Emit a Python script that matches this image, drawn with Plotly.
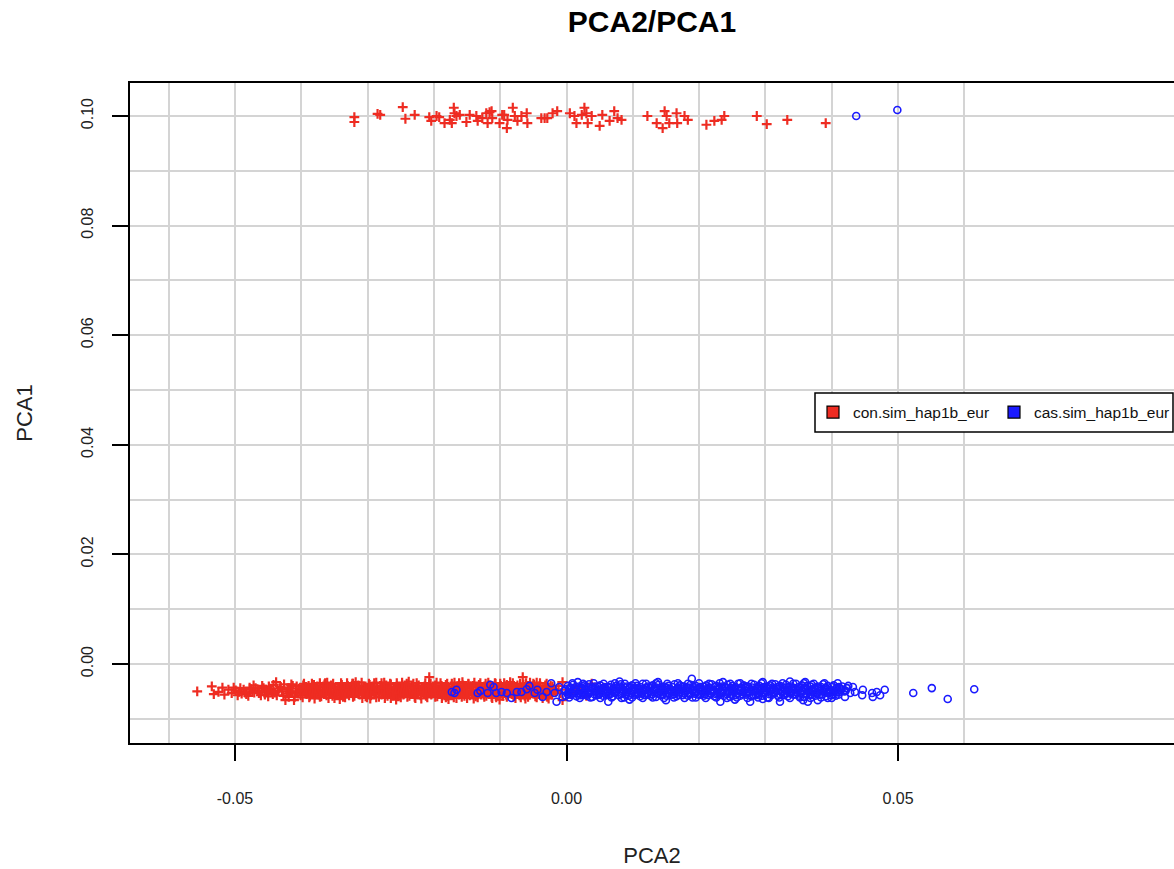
import plotly.graph_objects as go

# ---------------- data (PCA2, PCA1) ----------------
con_top = [
    (-0.0320, 0.0998), (-0.0320, 0.0989), (-0.0285, 0.1004), (-0.0281, 0.1002), (-0.0247, 0.1016),
    (-0.0243, 0.0995), (-0.0229, 0.1002), (-0.0207, 0.0998), (-0.0204, 0.0991), (-0.0196, 0.1000),
    (-0.0192, 0.0998), (-0.0184, 0.0987), (-0.0176, 0.0993), (-0.0173, 0.0987), (-0.0170, 0.1015),
    (-0.0169, 0.1005), (-0.0166, 0.1000), (-0.0161, 0.1002), (-0.0151, 0.0989), (-0.0146, 0.1002),
    (-0.0136, 0.1000), (-0.0134, 0.0991), (-0.0127, 0.0996), (-0.0121, 0.1005), (-0.0119, 0.0987),
    (-0.0116, 0.1007), (-0.0113, 0.1009), (-0.0112, 0.0996), (-0.0101, 0.0987), (-0.0097, 0.1002),
    (-0.0094, 0.1002), (-0.0090, 0.0978), (-0.0089, 0.0993), (-0.0081, 0.1015), (-0.0078, 0.1000),
    (-0.0074, 0.0991), (-0.0068, 0.1000), (-0.0060, 0.1005), (-0.0059, 0.0987), (-0.0038, 0.0996),
    (-0.0033, 0.0996), (-0.0029, 0.0996), (-0.0021, 0.1005), (-0.0014, 0.1009), (0.0005, 0.1005),
    (0.0012, 0.1000), (0.0015, 0.0987), (0.0023, 0.1002), (0.0027, 0.1015), (0.0030, 0.1005),
    (0.0032, 0.0987), (0.0038, 0.1000), (0.0050, 0.0982), (0.0054, 0.1002), (0.0065, 0.0991),
    (0.0072, 0.1009), (0.0077, 0.0996), (0.0083, 0.0993), (0.0122, 0.1000), (0.0136, 0.0987),
    (0.0145, 0.0978), (0.0148, 0.1009), (0.0151, 0.1000), (0.0155, 0.0987), (0.0166, 0.1005),
    (0.0167, 0.0987), (0.0178, 0.1000), (0.0183, 0.0993), (0.0211, 0.0984), (0.0223, 0.0991),
    (0.0234, 0.0993), (0.0238, 0.1000), (0.0287, 0.1000), (0.0302, 0.0985), (0.0333, 0.0993),
    (0.0391, 0.0987),
]

cas_top = [(0.0437, 0.1000), (0.0499, 0.1011)]

con_low_left = [
    (-0.0557, -0.0050), (-0.0535, -0.0041), (-0.0532, -0.0055), (-0.0525, -0.0051), (-0.0519, -0.0043),
    (-0.0516, -0.0056), (-0.0494, -0.0051), (-0.0487, -0.0047), (-0.0483, -0.0055), (-0.0478, -0.0043),
    (-0.0471, -0.0052), (-0.0466, -0.0048), (-0.0461, -0.0057), (-0.0457, -0.0044), (-0.0452, -0.0051),
    (-0.0447, -0.0046), (-0.0443, -0.0055), (-0.0438, -0.0033), (-0.0435, -0.0049), (-0.0431, -0.0042),
    (-0.0427, -0.0058), (-0.0424, -0.0066), (-0.0421, -0.0047), (-0.0417, -0.0053), (-0.0413, -0.0040),
    (-0.0411, -0.0066), (-0.0408, -0.0050), (-0.0404, -0.0045), (-0.0401, -0.0057), (-0.0397, -0.0039),
    (-0.0394, -0.0052), (-0.0499, -0.0048), (-0.0490, -0.0054), (-0.0474, -0.0050), (-0.0469, -0.0044),
    (-0.0455, -0.0056), (-0.0449, -0.0041), (-0.0440, -0.0052), (-0.0433, -0.0045), (-0.0419, -0.0060),
    (-0.0415, -0.0037), (-0.0406, -0.0054), (-0.0399, -0.0046),
    (-0.0510, -0.0047), (-0.0505, -0.0053), (-0.0502, -0.0043), (-0.0496, -0.0057), (-0.0492, -0.0044),
    (-0.0485, -0.0052), (-0.0480, -0.0058), (-0.0476, -0.0046), (-0.0472, -0.0039), (-0.0464, -0.0053),
    (-0.0459, -0.0040), (-0.0454, -0.0047), (-0.0450, -0.0059), (-0.0445, -0.0050), (-0.0442, -0.0038),
    (-0.0437, -0.0057), (-0.0429, -0.0050), (-0.0426, -0.0037), (-0.0422, -0.0054), (-0.0418, -0.0044),
    (-0.0414, -0.0050), (-0.0410, -0.0060), (-0.0407, -0.0041), (-0.0402, -0.0049), (-0.0398, -0.0061),
    (-0.0396, -0.0036),
]

con_low_band = [
    (-0.0389, -0.0040), (-0.0381, -0.0038), (-0.0372, -0.0041), (-0.0365, -0.0037), (-0.0355, -0.0039),
    (-0.0348, -0.0042), (-0.0339, -0.0038), (-0.0330, -0.0040), (-0.0323, -0.0036), (-0.0314, -0.0039),
    (-0.0306, -0.0041), (-0.0297, -0.0038), (-0.0290, -0.0035), (-0.0281, -0.0040), (-0.0272, -0.0039),
    (-0.0265, -0.0037), (-0.0256, -0.0041), (-0.0248, -0.0038), (-0.0240, -0.0040), (-0.0231, -0.0036),
    (-0.0223, -0.0039), (-0.0214, -0.0041), (-0.0207, -0.0037), (-0.0198, -0.0039), (-0.0189, -0.0040),
    (-0.0182, -0.0038), (-0.0173, -0.0036), (-0.0165, -0.0041), (-0.0156, -0.0039), (-0.0148, -0.0037),
    (-0.0141, -0.0040), (-0.0132, -0.0038), (-0.0123, -0.0042), (-0.0116, -0.0039), (-0.0107, -0.0036),
    (-0.0099, -0.0040), (-0.0090, -0.0038), (-0.0082, -0.0041), (-0.0074, -0.0039), (-0.0065, -0.0037),
    (-0.0058, -0.0040), (-0.0049, -0.0038), (-0.0041, -0.0041), (-0.0032, -0.0039), (-0.0024, -0.0040),
    (-0.0393, -0.0042), (-0.0384, -0.0043), (-0.0376, -0.0041), (-0.0367, -0.0043), (-0.0358, -0.0042),
    (-0.0349, -0.0044), (-0.0340, -0.0042), (-0.0331, -0.0041), (-0.0322, -0.0043), (-0.0313, -0.0042),
    (-0.0304, -0.0044), (-0.0295, -0.0042), (-0.0286, -0.0043), (-0.0278, -0.0041), (-0.0269, -0.0042),
    (-0.0259, -0.0043), (-0.0250, -0.0042), (-0.0242, -0.0044), (-0.0233, -0.0042), (-0.0224, -0.0041),
    (-0.0215, -0.0043), (-0.0206, -0.0042), (-0.0197, -0.0043), (-0.0188, -0.0041), (-0.0179, -0.0042),
    (-0.0171, -0.0044), (-0.0162, -0.0042), (-0.0153, -0.0043), (-0.0145, -0.0041), (-0.0137, -0.0042),
    (-0.0127, -0.0043), (-0.0118, -0.0042), (-0.0110, -0.0041), (-0.0101, -0.0043), (-0.0092, -0.0042),
    (-0.0083, -0.0044), (-0.0075, -0.0042), (-0.0066, -0.0043), (-0.0057, -0.0041), (-0.0048, -0.0042),
    (-0.0040, -0.0043), (-0.0031, -0.0042), (-0.0021, -0.0041),
    (-0.0385, -0.0046), (-0.0377, -0.0044), (-0.0368, -0.0047), (-0.0360, -0.0045), (-0.0351, -0.0044),
    (-0.0343, -0.0047), (-0.0335, -0.0045), (-0.0326, -0.0046), (-0.0318, -0.0043), (-0.0310, -0.0047),
    (-0.0301, -0.0045), (-0.0293, -0.0044), (-0.0285, -0.0046), (-0.0277, -0.0048), (-0.0268, -0.0045),
    (-0.0260, -0.0044), (-0.0252, -0.0047), (-0.0244, -0.0045), (-0.0235, -0.0043), (-0.0227, -0.0046),
    (-0.0218, -0.0045), (-0.0210, -0.0047), (-0.0202, -0.0044), (-0.0193, -0.0046), (-0.0186, -0.0045),
    (-0.0177, -0.0047), (-0.0169, -0.0044), (-0.0160, -0.0046), (-0.0152, -0.0045), (-0.0144, -0.0043),
    (-0.0136, -0.0047), (-0.0128, -0.0045), (-0.0119, -0.0046), (-0.0111, -0.0044), (-0.0103, -0.0047),
    (-0.0094, -0.0045), (-0.0086, -0.0046), (-0.0078, -0.0044), (-0.0069, -0.0047), (-0.0061, -0.0045),
    (-0.0053, -0.0046), (-0.0045, -0.0044), (-0.0036, -0.0047), (-0.0028, -0.0045), (-0.0019, -0.0046),
    (-0.0390, -0.0048), (-0.0381, -0.0049), (-0.0373, -0.0047), (-0.0364, -0.0049), (-0.0356, -0.0048),
    (-0.0347, -0.0050), (-0.0338, -0.0048), (-0.0329, -0.0049), (-0.0320, -0.0047), (-0.0311, -0.0049),
    (-0.0302, -0.0048), (-0.0294, -0.0050), (-0.0284, -0.0048), (-0.0276, -0.0049), (-0.0267, -0.0047),
    (-0.0257, -0.0049), (-0.0248, -0.0048), (-0.0239, -0.0050), (-0.0230, -0.0048), (-0.0222, -0.0049),
    (-0.0213, -0.0047), (-0.0204, -0.0049), (-0.0195, -0.0048), (-0.0186, -0.0050), (-0.0177, -0.0048),
    (-0.0168, -0.0049), (-0.0159, -0.0047), (-0.0151, -0.0049), (-0.0142, -0.0048), (-0.0133, -0.0050),
    (-0.0124, -0.0048), (-0.0115, -0.0049), (-0.0106, -0.0047), (-0.0097, -0.0049), (-0.0089, -0.0048),
    (-0.0080, -0.0050), (-0.0071, -0.0048), (-0.0062, -0.0049), (-0.0054, -0.0047), (-0.0046, -0.0049),
    (-0.0037, -0.0048), (-0.0029, -0.0050), (-0.0020, -0.0048),
    (-0.0391, -0.0052), (-0.0383, -0.0050), (-0.0375, -0.0053), (-0.0366, -0.0051), (-0.0358, -0.0049),
    (-0.0350, -0.0052), (-0.0341, -0.0050), (-0.0333, -0.0053), (-0.0324, -0.0051), (-0.0316, -0.0052),
    (-0.0308, -0.0050), (-0.0299, -0.0053), (-0.0291, -0.0051), (-0.0283, -0.0049), (-0.0274, -0.0052),
    (-0.0266, -0.0050), (-0.0258, -0.0053), (-0.0249, -0.0051), (-0.0241, -0.0052), (-0.0233, -0.0050),
    (-0.0225, -0.0054), (-0.0216, -0.0051), (-0.0208, -0.0052), (-0.0200, -0.0050), (-0.0191, -0.0053),
    (-0.0184, -0.0051), (-0.0175, -0.0049), (-0.0167, -0.0052), (-0.0158, -0.0050), (-0.0150, -0.0053),
    (-0.0142, -0.0051), (-0.0134, -0.0052), (-0.0125, -0.0050), (-0.0117, -0.0053), (-0.0109, -0.0051),
    (-0.0100, -0.0052), (-0.0092, -0.0050), (-0.0084, -0.0053), (-0.0076, -0.0051), (-0.0067, -0.0049),
    (-0.0059, -0.0052), (-0.0051, -0.0050), (-0.0043, -0.0053), (-0.0034, -0.0051), (-0.0026, -0.0052),
    (-0.0016, -0.0050),
    (-0.0392, -0.0055), (-0.0383, -0.0054), (-0.0374, -0.0056), (-0.0366, -0.0055), (-0.0357, -0.0054),
    (-0.0348, -0.0055), (-0.0339, -0.0056), (-0.0331, -0.0054), (-0.0322, -0.0055), (-0.0313, -0.0053),
    (-0.0305, -0.0055), (-0.0296, -0.0056), (-0.0288, -0.0054), (-0.0279, -0.0055), (-0.0271, -0.0054),
    (-0.0262, -0.0056), (-0.0253, -0.0055), (-0.0245, -0.0054), (-0.0236, -0.0055), (-0.0228, -0.0053),
    (-0.0219, -0.0055), (-0.0211, -0.0056), (-0.0202, -0.0054), (-0.0193, -0.0055), (-0.0185, -0.0054),
    (-0.0176, -0.0056), (-0.0168, -0.0055), (-0.0159, -0.0054), (-0.0150, -0.0055), (-0.0142, -0.0053),
    (-0.0133, -0.0055), (-0.0125, -0.0056), (-0.0116, -0.0054), (-0.0108, -0.0055), (-0.0099, -0.0054),
    (-0.0091, -0.0056), (-0.0082, -0.0055), (-0.0073, -0.0054), (-0.0065, -0.0055), (-0.0056, -0.0053),
    (-0.0048, -0.0055), (-0.0039, -0.0056), (-0.0031, -0.0054), (-0.0023, -0.0055),
    (-0.0387, -0.0058), (-0.0379, -0.0056), (-0.0370, -0.0059), (-0.0362, -0.0057), (-0.0353, -0.0058),
    (-0.0345, -0.0056), (-0.0337, -0.0060), (-0.0328, -0.0057), (-0.0320, -0.0058), (-0.0312, -0.0056),
    (-0.0303, -0.0059), (-0.0295, -0.0057), (-0.0287, -0.0061), (-0.0279, -0.0056), (-0.0270, -0.0058),
    (-0.0262, -0.0057), (-0.0254, -0.0059), (-0.0246, -0.0056), (-0.0237, -0.0058), (-0.0229, -0.0060),
    (-0.0220, -0.0057), (-0.0212, -0.0058), (-0.0204, -0.0056), (-0.0195, -0.0059), (-0.0187, -0.0057),
    (-0.0179, -0.0058), (-0.0170, -0.0061), (-0.0162, -0.0056), (-0.0154, -0.0058), (-0.0146, -0.0057),
    (-0.0137, -0.0059), (-0.0129, -0.0056), (-0.0121, -0.0058), (-0.0113, -0.0060), (-0.0104, -0.0057),
    (-0.0096, -0.0058), (-0.0088, -0.0056), (-0.0080, -0.0059), (-0.0071, -0.0057), (-0.0063, -0.0058),
    (-0.0055, -0.0056), (-0.0047, -0.0059), (-0.0039, -0.0057), (-0.0030, -0.0058), (-0.0022, -0.0056),
    (-0.0384, -0.0036), (-0.0364, -0.0035), (-0.0352, -0.0036), (-0.0340, -0.0035), (-0.0322, -0.0036),
    (-0.0309, -0.0034), (-0.0298, -0.0036), (-0.0279, -0.0035), (-0.0266, -0.0036), (-0.0256, -0.0035),
    (-0.0241, -0.0036), (-0.0226, -0.0035), (-0.0205, -0.0036), (-0.0190, -0.0035), (-0.0180, -0.0036),
    (-0.0162, -0.0035), (-0.0148, -0.0036), (-0.0139, -0.0034), (-0.0122, -0.0036), (-0.0108, -0.0035),
    (-0.0100, -0.0036), (-0.0081, -0.0035), (-0.0070, -0.0036), (-0.0061, -0.0035), (-0.0050, -0.0036),
    (-0.0040, -0.0035), (-0.0030, -0.0036),
    (-0.0388, -0.0061), (-0.0372, -0.0060), (-0.0359, -0.0062), (-0.0334, -0.0061), (-0.0322, -0.0060),
    (-0.0301, -0.0061), (-0.0283, -0.0060), (-0.0274, -0.0062), (-0.0250, -0.0061), (-0.0240, -0.0060),
    (-0.0210, -0.0061), (-0.0198, -0.0060), (-0.0182, -0.0061), (-0.0166, -0.0062), (-0.0158, -0.0060),
    (-0.0134, -0.0061), (-0.0124, -0.0060), (-0.0106, -0.0061), (-0.0090, -0.0060), (-0.0069, -0.0061),
    (-0.0058, -0.0060), (-0.0045, -0.0061), (-0.0029, -0.0060),
]

con_low_extra = [
    (-0.0380, -0.0063), (-0.0361, -0.0034), (-0.0342, -0.0064), (-0.0318, -0.0033), (-0.0296, -0.0063),
    (-0.0275, -0.0034), (-0.0257, -0.0065), (-0.0238, -0.0032), (-0.0207, -0.0024), (-0.0219, -0.0063),
    (-0.0196, -0.0034), (-0.0178, -0.0064), (-0.0157, -0.0033), (-0.0140, -0.0063), (-0.0118, -0.0034),
    (-0.0101, -0.0065), (-0.0085, -0.0033), (-0.0066, -0.0024), (-0.0062, -0.0063), (-0.0045, -0.0034),
    (-0.0027, -0.0063), (-0.0012, -0.0040), (-0.0006, -0.0033), (-0.0006, -0.0066), (0.0000, -0.0047),
    (0.0006, -0.0055), (0.0013, -0.0043), (0.0021, -0.0051), (0.0030, -0.0058), (0.0038, -0.0036),
    (0.0046, -0.0049), (0.0055, -0.0044), (-0.0009, -0.0053),
    (-0.0372, -0.0035), (-0.0350, -0.0062), (-0.0331, -0.0035), (-0.0308, -0.0062), (-0.0287, -0.0034),
    (-0.0265, -0.0062), (-0.0248, -0.0034), (-0.0228, -0.0062), (-0.0213, -0.0035), (-0.0188, -0.0062),
    (-0.0169, -0.0034), (-0.0150, -0.0062), (-0.0130, -0.0035), (-0.0112, -0.0062), (-0.0094, -0.0035),
    (-0.0077, -0.0062), (-0.0055, -0.0034), (-0.0036, -0.0062),
]

cas_low_overlap = [
    (-0.0173, -0.0051), (-0.0169, -0.0053), (-0.0166, -0.0047), (-0.0134, -0.0053), (-0.0130, -0.0049),
    (-0.0119, -0.0053), (-0.0115, -0.0038), (-0.0110, -0.0042), (-0.0106, -0.0053), (-0.0098, -0.0051),
    (-0.0090, -0.0053), (-0.0083, -0.0062), (-0.0075, -0.0051), (-0.0068, -0.0051), (-0.0060, -0.0046),
    (-0.0056, -0.0040), (-0.0048, -0.0053), (-0.0044, -0.0047), (-0.0036, -0.0060), (-0.0030, -0.0051),
    (-0.0023, -0.0035), (-0.0018, -0.0053), (-0.0015, -0.0069), (-0.0011, -0.0042), (-0.0006, -0.0060),
]

cas_low_band = [
    (0.0002, -0.0040), (0.0010, -0.0038), (0.0019, -0.0041), (0.0027, -0.0039), (0.0034, -0.0037),
    (0.0043, -0.0041), (0.0051, -0.0039), (0.0058, -0.0042), (0.0067, -0.0038), (0.0075, -0.0040),
    (0.0082, -0.0037), (0.0091, -0.0041), (0.0099, -0.0039), (0.0106, -0.0040), (0.0115, -0.0036),
    (0.0123, -0.0041), (0.0130, -0.0039), (0.0139, -0.0038), (0.0147, -0.0041), (0.0154, -0.0040),
    (0.0163, -0.0037), (0.0171, -0.0039), (0.0178, -0.0041), (0.0187, -0.0038), (0.0195, -0.0040),
    (0.0202, -0.0042), (0.0211, -0.0039), (0.0219, -0.0037), (0.0226, -0.0040), (0.0235, -0.0041),
    (0.0243, -0.0038), (0.0250, -0.0040), (0.0259, -0.0036), (0.0267, -0.0039), (0.0274, -0.0041),
    (0.0283, -0.0038), (0.0291, -0.0040), (0.0298, -0.0042), (0.0307, -0.0039), (0.0315, -0.0037),
    (0.0322, -0.0040), (0.0331, -0.0038), (0.0339, -0.0041), (0.0346, -0.0036), (0.0355, -0.0039),
    (0.0363, -0.0040), (0.0370, -0.0038), (0.0379, -0.0041), (0.0387, -0.0037), (0.0394, -0.0040),
    (0.0403, -0.0039), (0.0411, -0.0042),
    (0.0006, -0.0043), (0.0014, -0.0042), (0.0023, -0.0043), (0.0030, -0.0041), (0.0039, -0.0043),
    (0.0048, -0.0042), (0.0055, -0.0044), (0.0064, -0.0042), (0.0071, -0.0043), (0.0080, -0.0041),
    (0.0088, -0.0043), (0.0095, -0.0042), (0.0104, -0.0044), (0.0111, -0.0042), (0.0120, -0.0043),
    (0.0128, -0.0041), (0.0135, -0.0043), (0.0144, -0.0042), (0.0151, -0.0044), (0.0160, -0.0042),
    (0.0168, -0.0043), (0.0175, -0.0041), (0.0184, -0.0043), (0.0191, -0.0042), (0.0200, -0.0044),
    (0.0208, -0.0042), (0.0215, -0.0043), (0.0224, -0.0041), (0.0231, -0.0043), (0.0240, -0.0042),
    (0.0248, -0.0044), (0.0255, -0.0042), (0.0264, -0.0043), (0.0271, -0.0041), (0.0280, -0.0043),
    (0.0288, -0.0042), (0.0295, -0.0044), (0.0304, -0.0042), (0.0311, -0.0043), (0.0320, -0.0041),
    (0.0328, -0.0043), (0.0335, -0.0042), (0.0344, -0.0044), (0.0351, -0.0042), (0.0360, -0.0043),
    (0.0368, -0.0041), (0.0375, -0.0043), (0.0384, -0.0042), (0.0391, -0.0044), (0.0400, -0.0042),
    (0.0408, -0.0043), (0.0416, -0.0041),
    (-0.0002, -0.0046), (0.0006, -0.0044), (0.0014, -0.0047), (0.0023, -0.0045), (0.0030, -0.0046),
    (0.0038, -0.0044), (0.0047, -0.0047), (0.0054, -0.0045), (0.0062, -0.0043), (0.0071, -0.0046),
    (0.0078, -0.0045), (0.0086, -0.0047), (0.0095, -0.0044), (0.0102, -0.0046), (0.0110, -0.0045),
    (0.0119, -0.0047), (0.0126, -0.0044), (0.0134, -0.0046), (0.0143, -0.0045), (0.0150, -0.0043),
    (0.0158, -0.0047), (0.0167, -0.0045), (0.0174, -0.0046), (0.0182, -0.0044), (0.0191, -0.0047),
    (0.0198, -0.0045), (0.0206, -0.0046), (0.0215, -0.0044), (0.0222, -0.0047), (0.0230, -0.0045),
    (0.0239, -0.0043), (0.0246, -0.0046), (0.0254, -0.0045), (0.0263, -0.0047), (0.0270, -0.0044),
    (0.0278, -0.0046), (0.0287, -0.0045), (0.0294, -0.0047), (0.0302, -0.0044), (0.0311, -0.0046),
    (0.0318, -0.0045), (0.0326, -0.0043), (0.0335, -0.0047), (0.0342, -0.0045), (0.0350, -0.0046),
    (0.0359, -0.0044), (0.0366, -0.0047), (0.0374, -0.0045), (0.0383, -0.0046), (0.0390, -0.0044),
    (0.0398, -0.0047), (0.0407, -0.0045), (0.0415, -0.0046), (0.0423, -0.0044),
    (-0.0003, -0.0049), (0.0005, -0.0048), (0.0012, -0.0050), (0.0021, -0.0049), (0.0029, -0.0048),
    (0.0036, -0.0049), (0.0045, -0.0050), (0.0052, -0.0048), (0.0061, -0.0049), (0.0069, -0.0047),
    (0.0076, -0.0049), (0.0085, -0.0050), (0.0092, -0.0048), (0.0101, -0.0049), (0.0109, -0.0048),
    (0.0116, -0.0050), (0.0125, -0.0049), (0.0132, -0.0048), (0.0141, -0.0049), (0.0149, -0.0047),
    (0.0156, -0.0049), (0.0165, -0.0050), (0.0172, -0.0048), (0.0181, -0.0049), (0.0189, -0.0048),
    (0.0196, -0.0050), (0.0205, -0.0049), (0.0212, -0.0048), (0.0221, -0.0049), (0.0229, -0.0047),
    (0.0236, -0.0049), (0.0245, -0.0050), (0.0252, -0.0048), (0.0261, -0.0049), (0.0269, -0.0048),
    (0.0276, -0.0050), (0.0285, -0.0049), (0.0292, -0.0048), (0.0301, -0.0049), (0.0309, -0.0047),
    (0.0316, -0.0049), (0.0325, -0.0050), (0.0332, -0.0048), (0.0341, -0.0049), (0.0349, -0.0048),
    (0.0356, -0.0050), (0.0365, -0.0049), (0.0372, -0.0048), (0.0381, -0.0049), (0.0389, -0.0047),
    (0.0396, -0.0049), (0.0405, -0.0050), (0.0413, -0.0048), (0.0421, -0.0049),
    (0.0003, -0.0052), (0.0011, -0.0050), (0.0018, -0.0053), (0.0026, -0.0051), (0.0035, -0.0052),
    (0.0042, -0.0050), (0.0050, -0.0054), (0.0059, -0.0051), (0.0066, -0.0052), (0.0074, -0.0050),
    (0.0083, -0.0053), (0.0090, -0.0051), (0.0098, -0.0049), (0.0107, -0.0052), (0.0114, -0.0050),
    (0.0122, -0.0053), (0.0131, -0.0051), (0.0138, -0.0052), (0.0146, -0.0050), (0.0155, -0.0054),
    (0.0162, -0.0051), (0.0170, -0.0052), (0.0179, -0.0050), (0.0186, -0.0053), (0.0194, -0.0051),
    (0.0203, -0.0049), (0.0210, -0.0052), (0.0218, -0.0050), (0.0227, -0.0053), (0.0234, -0.0051),
    (0.0242, -0.0052), (0.0251, -0.0050), (0.0258, -0.0054), (0.0266, -0.0051), (0.0275, -0.0052),
    (0.0282, -0.0050), (0.0290, -0.0053), (0.0299, -0.0051), (0.0306, -0.0049), (0.0314, -0.0052),
    (0.0323, -0.0050), (0.0330, -0.0053), (0.0338, -0.0051), (0.0347, -0.0052), (0.0354, -0.0050),
    (0.0362, -0.0054), (0.0371, -0.0051), (0.0378, -0.0052), (0.0386, -0.0050), (0.0395, -0.0053),
    (0.0402, -0.0051), (0.0410, -0.0052), (0.0419, -0.0050),
    (0.0002, -0.0055), (0.0009, -0.0054), (0.0018, -0.0056), (0.0026, -0.0055), (0.0033, -0.0054),
    (0.0042, -0.0055), (0.0049, -0.0056), (0.0058, -0.0054), (0.0066, -0.0055), (0.0073, -0.0053),
    (0.0082, -0.0055), (0.0089, -0.0056), (0.0098, -0.0054), (0.0106, -0.0055), (0.0113, -0.0054),
    (0.0122, -0.0056), (0.0129, -0.0055), (0.0138, -0.0054), (0.0146, -0.0055), (0.0153, -0.0053),
    (0.0162, -0.0055), (0.0169, -0.0056), (0.0178, -0.0054), (0.0186, -0.0055), (0.0193, -0.0054),
    (0.0202, -0.0056), (0.0209, -0.0055), (0.0218, -0.0054), (0.0226, -0.0055), (0.0233, -0.0053),
    (0.0242, -0.0055), (0.0249, -0.0056), (0.0258, -0.0054), (0.0266, -0.0055), (0.0273, -0.0054),
    (0.0282, -0.0056), (0.0289, -0.0055), (0.0298, -0.0054), (0.0306, -0.0055), (0.0313, -0.0053),
    (0.0322, -0.0055), (0.0329, -0.0056), (0.0338, -0.0054), (0.0346, -0.0055), (0.0353, -0.0054),
    (0.0362, -0.0056), (0.0369, -0.0055), (0.0378, -0.0054), (0.0386, -0.0055), (0.0393, -0.0053),
    (0.0402, -0.0055), (0.0410, -0.0056),
    (-0.0001, -0.0058), (0.0007, -0.0056), (0.0015, -0.0059), (0.0022, -0.0057), (0.0031, -0.0058),
    (0.0039, -0.0060), (0.0046, -0.0057), (0.0055, -0.0058), (0.0063, -0.0056), (0.0070, -0.0059),
    (0.0079, -0.0057), (0.0087, -0.0061), (0.0094, -0.0058), (0.0103, -0.0056), (0.0111, -0.0059),
    (0.0118, -0.0057), (0.0127, -0.0058), (0.0135, -0.0060), (0.0142, -0.0057), (0.0151, -0.0058),
    (0.0159, -0.0056), (0.0166, -0.0059), (0.0175, -0.0057), (0.0183, -0.0058), (0.0190, -0.0061),
    (0.0199, -0.0056), (0.0207, -0.0058), (0.0214, -0.0057), (0.0223, -0.0059), (0.0231, -0.0056),
    (0.0238, -0.0058), (0.0247, -0.0060), (0.0255, -0.0057), (0.0262, -0.0058), (0.0271, -0.0056),
    (0.0279, -0.0059), (0.0286, -0.0057), (0.0295, -0.0058), (0.0303, -0.0061), (0.0310, -0.0056),
    (0.0319, -0.0058), (0.0327, -0.0057), (0.0334, -0.0059), (0.0343, -0.0056), (0.0351, -0.0058),
    (0.0358, -0.0060), (0.0367, -0.0057), (0.0375, -0.0058), (0.0382, -0.0056), (0.0391, -0.0059),
    (0.0399, -0.0057), (0.0406, -0.0058),
    (0.0009, -0.0035), (0.0025, -0.0036), (0.0041, -0.0035), (0.0056, -0.0036), (0.0073, -0.0035),
    (0.0088, -0.0036), (0.0104, -0.0035), (0.0120, -0.0036), (0.0135, -0.0035), (0.0152, -0.0036),
    (0.0168, -0.0035), (0.0183, -0.0036), (0.0200, -0.0035), (0.0215, -0.0036), (0.0231, -0.0035),
    (0.0247, -0.0036), (0.0262, -0.0035), (0.0279, -0.0036), (0.0294, -0.0035), (0.0310, -0.0036),
    (0.0326, -0.0035), (0.0342, -0.0036), (0.0358, -0.0035), (0.0373, -0.0036), (0.0389, -0.0035),
    (0.0004, -0.0061), (0.0020, -0.0062), (0.0036, -0.0061), (0.0051, -0.0062), (0.0068, -0.0061),
    (0.0083, -0.0062), (0.0099, -0.0061), (0.0115, -0.0062), (0.0130, -0.0061), (0.0147, -0.0062),
    (0.0162, -0.0061), (0.0178, -0.0062), (0.0195, -0.0061), (0.0210, -0.0062), (0.0226, -0.0061),
    (0.0242, -0.0062), (0.0257, -0.0061), (0.0273, -0.0062), (0.0289, -0.0061), (0.0305, -0.0062),
    (0.0321, -0.0061), (0.0337, -0.0062), (0.0352, -0.0061), (0.0368, -0.0062), (0.0384, -0.0061),
    (0.0400, -0.0062),
]

cas_low_extra = [
    (0.0189, -0.0027), (0.0138, -0.0033), (0.0236, -0.0033), (0.0017, -0.0033), (0.0063, -0.0069),
    (0.0232, -0.0069), (0.0277, -0.0069), (0.0322, -0.0069), (0.0357, -0.0066), (0.0364, -0.0069),
    (0.0379, -0.0066), (0.0296, -0.0064), (0.0296, -0.0033), (0.0337, -0.0032), (0.0095, -0.0065),
    (0.0150, -0.0066), (0.0080, -0.0032), (0.0254, -0.0065), (0.0360, -0.0033), (0.0409, -0.0035),
    (0.0408, -0.0051), (0.0425, -0.0040), (0.0428, -0.0053), (0.0432, -0.0042), (0.0435, -0.0051),
    (0.0446, -0.0057), (0.0447, -0.0047), (0.0461, -0.0053), (0.0462, -0.0060), (0.0468, -0.0051),
    (0.0473, -0.0057), (0.0480, -0.0047), (0.0420, -0.0060), (0.0394, -0.0062), (0.0523, -0.0053),
    (0.0551, -0.0044), (0.0575, -0.0064), (0.0615, -0.0046),
]

series_names = ["con.sim_hap1b_eur", "cas.sim_hap1b_eur"]
x_ticks = [-0.05, 0.0, 0.05]
x_tick_labels = ["-0.05", "0.00", "0.05"]
y_ticks = [0.0, 0.02, 0.04, 0.06, 0.08, 0.10]
y_tick_labels = ["0.00", "0.02", "0.04", "0.06", "0.08", "0.10"]
x_grid = [-0.06, -0.05, -0.04, -0.03, -0.02, -0.01, 0.0, 0.01, 0.02, 0.03, 0.04, 0.05, 0.06]
y_grid = [-0.01, 0.0, 0.01, 0.02, 0.03, 0.04, 0.05, 0.06, 0.07, 0.08, 0.09, 0.10]

# ---------------- styling ----------------
RED = "#ee2c22"
BLUE = "#1a1aff"
GRID = "#d4d4d4"
FONT = "Liberation Sans, Arial, Helvetica, sans-serif"

con_pts = con_low_left + con_low_band + con_low_extra + con_top
cas_pts = cas_low_overlap + cas_low_band + cas_low_extra + cas_top

fig = go.Figure()
fig.add_trace(go.Scatter(
    x=[p[0] for p in con_pts], y=[p[1] for p in con_pts], mode="markers",
    marker=dict(symbol="cross-thin", size=7, line=dict(width=2.2, color=RED)),
    showlegend=False, hoverinfo="skip"))
fig.add_trace(go.Scatter(
    x=[p[0] for p in cas_pts], y=[p[1] for p in cas_pts], mode="markers",
    marker=dict(symbol="circle-open", size=7, color=BLUE, line=dict(width=1.6, color=BLUE)),
    showlegend=False, hoverinfo="skip"))

# legend entries (filled squares with black border, as in the R legend)
for name, col in zip(series_names, [RED, BLUE]):
    fig.add_trace(go.Scatter(
        x=[None], y=[None], mode="markers", name=name,
        marker=dict(symbol="square", size=12, color=col, line=dict(width=1.2, color="black"))))

L, T, B = 130, 83, 126
W, H = 1174, 869
ph = H - T - B
pw = W - L

def px2paper_x(px):
    return (px - L) / pw

def py2paper_y(py):
    return (H - B - py) / ph

fig.update_layout(
    width=W, height=H,
    margin=dict(l=L, r=0, t=T, b=B, autoexpand=False),
    paper_bgcolor="white", plot_bgcolor="white",
    font=dict(family=FONT, color="#111"),
    title=dict(text="<b>PCA2/PCA1</b>", font=dict(size=30, color="black", family=FONT),
               x=0.5, xref="paper", xanchor="center", y=1 - 21 / H, yref="container", yanchor="middle"),
    legend=dict(orientation="h", x=px2paper_x(813), xanchor="left", y=py2paper_y(412.5), yanchor="middle",
                bgcolor="rgba(0,0,0,0)", borderwidth=0, font=dict(size=15.5, color="#111", family=FONT),
                entrywidth=136, entrywidthmode="pixels", itemclick=False),
    shapes=[dict(type="rect", xref="paper", yref="paper",
                 x0=px2paper_x(815), x1=px2paper_x(1173), y0=py2paper_y(432), y1=py2paper_y(393),
                 line=dict(color="black", width=1.5), fillcolor="white", layer="above")],
)

fig.update_xaxes(
    range=[-0.06584, 0.09163], tickmode="array", tickvals=x_ticks, ticktext=x_tick_labels,
    ticks="outside", ticklen=16, tickwidth=1.5, tickcolor="black",
    tickfont=dict(size=16, color="#222", family=FONT), ticklabelstandoff=24,
    showline=True, linecolor="black", linewidth=2, mirror=True, zeroline=False,
    showgrid=True, gridcolor=GRID, gridwidth=2,
    minor=dict(tickmode="array", tickvals=x_grid, showgrid=True, gridcolor=GRID, gridwidth=2, ticks=""),
    title=dict(text="PCA2", font=dict(size=22, color="#222", family=FONT), standoff=41),
)
fig.update_yaxes(
    range=[-0.014416, 0.10602], tickmode="array", tickvals=y_ticks, ticktext=y_tick_labels,
    tickangle=-90, ticks="outside", ticklen=16, tickwidth=1.5, tickcolor="black",
    tickfont=dict(size=16, color="#222", family=FONT), ticklabelstandoff=13,
    showline=True, linecolor="black", linewidth=2, mirror=False, zeroline=False,
    showgrid=True, gridcolor=GRID, gridwidth=2,
    minor=dict(tickmode="array", tickvals=y_grid, showgrid=True, gridcolor=GRID, gridwidth=2, ticks=""),
    title=dict(text="PCA1", font=dict(size=22, color="#222", family=FONT), standoff=40),
)

fig.write_html("out.html")
